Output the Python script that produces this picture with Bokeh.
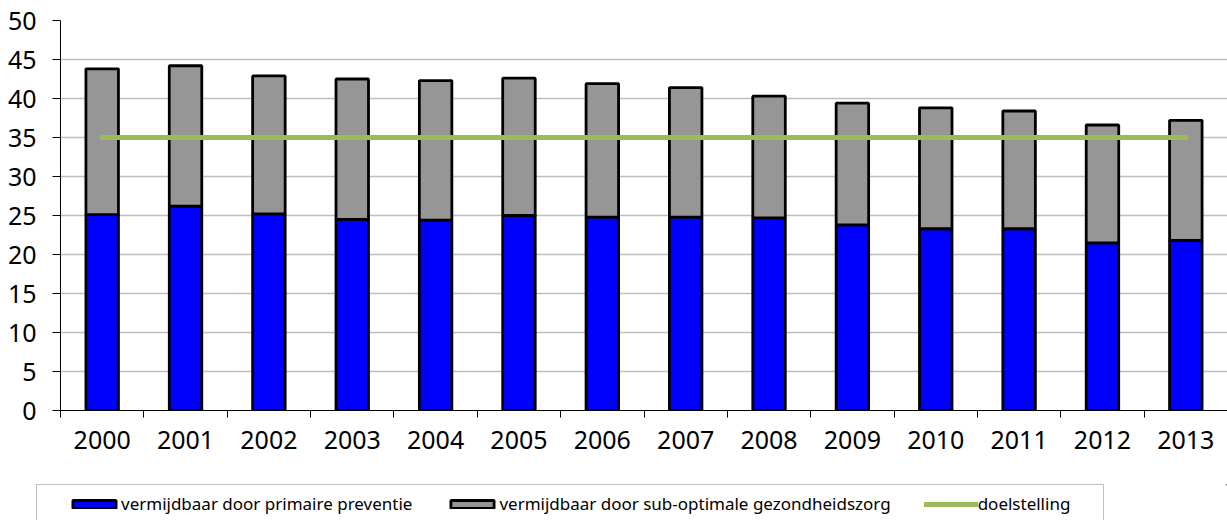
import numpy as np
from bokeh.plotting import figure
from bokeh.layouts import column, row
from bokeh.models import Range1d, FixedTicker, Legend, LegendItem, ColumnDataSource
from bokeh.embed import file_html
from bokeh.resources import INLINE

years = ["2000", "2001", "2002", "2003", "2004", "2005", "2006",
         "2007", "2008", "2009", "2010", "2011", "2012", "2013"]
primaire_preventie = [25.1, 26.2, 25.2, 24.5, 24.4, 25.0, 24.8,
                      24.8, 24.7, 23.8, 23.3, 23.3, 21.5, 21.8]
gezondheidszorg = [18.7, 18.0, 17.7, 18.0, 17.9, 17.6, 17.1,
                   16.6, 15.6, 15.6, 15.5, 15.1, 15.1, 15.4]
doelstelling = [35, 35, 35, 35, 35, 35, 35, 35, 35, 35, 35, 35, 35, 35]
y_ticks = [0, 5, 10, 15, 20, 25, 30, 35, 40, 45, 50]
legend_labels = ["vermijdbaar door primaire preventie",
                 "vermijdbaar door sub-optimale gezondheidszorg",
                 "doelstelling"]

FONT = "Noto Sans"
BLUE = "#0000FF"
GREY = "#969696"
GREEN = "#9BBB59"

xpos = np.arange(len(years)) + 0.5
prim = np.array(primaire_preventie)
zorg = np.array(gezondheidszorg)

src = ColumnDataSource(dict(x=xpos, prim=prim, top=prim + zorg, doel=doelstelling))

p = figure(width=1227, height=484, output_backend="svg", toolbar_location=None,
           x_range=Range1d(0, len(years)), y_range=Range1d(0, 50),
           min_border_left=60, min_border_right=0, min_border_top=20, min_border_bottom=74)
p.outline_line_color = None
p.background_fill_color = "white"
p.border_fill_color = "white"

p.vbar(x="x", bottom=0, top="prim", width=0.39, source=src,
       fill_color=BLUE, line_color="black", line_width=2.8)
p.vbar(x="x", bottom="prim", top="top", width=0.39, source=src,
       fill_color=GREY, line_color="black", line_width=2.8)
p.line(x="x", y="doel", source=src, line_color=GREEN, line_width=5, line_cap="round")

# X axis: labels at category centres, tick marks at category boundaries
xa = p.xaxis[0]
xa.ticker = FixedTicker(ticks=list(xpos), minor_ticks=list(range(len(years) + 1)))
xa.major_label_overrides = {float(x): y for x, y in zip(xpos, years)}
xa.major_tick_out = 0
xa.major_tick_in = 0
xa.minor_tick_out = 7
xa.minor_tick_in = 0
xa.minor_tick_line_color = "black"
xa.axis_line_color = "black"
xa.major_label_standoff = 13
xa.major_label_text_font = FONT
xa.major_label_text_font_size = "25px"
xa.major_label_text_color = "black"

ya = p.yaxis[0]
ya.ticker = FixedTicker(ticks=y_ticks, minor_ticks=[])
ya.major_tick_out = 8
ya.major_tick_in = 0
ya.major_tick_line_color = "black"
ya.axis_line_color = "black"
ya.major_label_standoff = 16
ya.major_label_text_font = FONT
ya.major_label_text_font_size = "25px"
ya.major_label_text_color = "black"

p.xgrid.visible = False
p.ygrid.grid_line_color = "#BEBEBE"
p.ygrid.grid_line_width = 1.5

# ---- legend strip (separate small figure below the chart) ----
lg = figure(width=1227, height=36, output_backend="svg", toolbar_location=None,
            x_range=Range1d(0, 1), y_range=Range1d(0, 1),
            x_axis_location=None, y_axis_location=None,
            min_border_left=0, min_border_right=0, min_border_top=0, min_border_bottom=0)
lg.outline_line_color = None
lg.xgrid.visible = False
lg.ygrid.visible = False
lg.border_fill_color = "white"

# legend-only renderers (their single mark lies outside the visible range)
d1 = lg.vbar(x=[5], bottom=[5], top=[6], width=0.39, fill_color=BLUE, line_color="black", line_width=2.8)
d2 = lg.vbar(x=[5], bottom=[5], top=[6], width=0.39, fill_color=GREY, line_color="black", line_width=2.8)
d3 = lg.line(x=[5, 6], y=[5, 5], line_color=GREEN, line_width=5, line_cap="round")
d0 = lg.line(x=[5, 6], y=[5, 5], line_alpha=0)

frame_leg = Legend(items=[LegendItem(label=" ", renderers=[d0])],
                   location=(36, -6), padding=0, spacing=0, margin=0,
                   glyph_width=1066, glyph_height=40, label_standoff=0,
                   label_width=0, label_height=0, label_text_font_size="1px",
                   border_line_color="#7F7F7F", border_line_width=1,
                   background_fill_color="white", background_fill_alpha=1)
lg.add_layout(frame_leg, "center")

leg = Legend(items=[LegendItem(label=legend_labels[0], renderers=[d1]),
                    LegendItem(label=legend_labels[1], renderers=[d2]),
                    LegendItem(label=legend_labels[2], renderers=[d3])],
             location=(67, 5), orientation="horizontal", padding=0, margin=0, spacing=33,
             glyph_width=54, glyph_height=10, label_standoff=0,
             label_height=20, label_text_font=FONT, label_text_font_size="17px",
             label_text_color="black",
             border_line_color=None, background_fill_alpha=0)
lg.add_layout(leg, "center")

layout = column(p, row(lg), spacing=0)
open("out.html", "w").write(file_html(layout, INLINE))
